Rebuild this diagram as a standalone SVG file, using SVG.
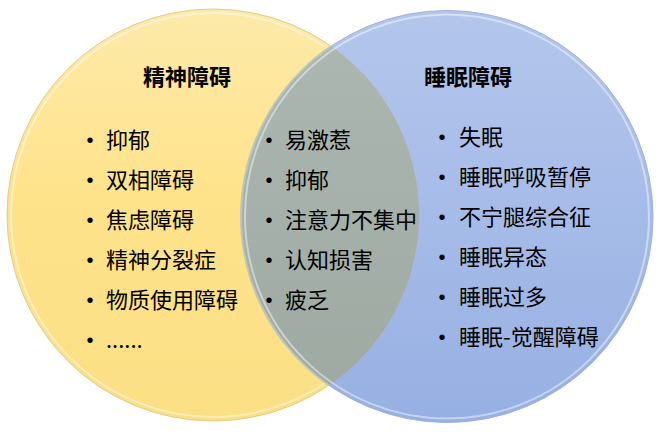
<svg xmlns="http://www.w3.org/2000/svg" width="664" height="436" viewBox="0 0 664 436">
<style>
text{font-family:"Noto Sans CJK SC","Noto Sans",sans-serif;fill:#000;}
.t{font-size:22px;font-weight:bold;}
.i{font-size:22px;}
.b{font-family:"Liberation Sans",sans-serif;font-size:20px;text-anchor:middle;}
.rim{fill:none;stroke:#ffffff;stroke-opacity:0.45;stroke-width:2;}
</style>
<defs>
<linearGradient id="gy" x1="0" y1="0" x2="0" y2="1">
<stop offset="0" stop-color="#FDEAAA"/>
<stop offset="0.45" stop-color="#FFE38B"/>
<stop offset="1" stop-color="#FBDF85"/>
</linearGradient>
<linearGradient id="gb" x1="0" y1="0" x2="0" y2="1">
<stop offset="0" stop-color="#B4C6EC"/>
<stop offset="1" stop-color="#97B0E3"/>
</linearGradient>
<linearGradient id="gg" x1="0" y1="0" x2="0" y2="1">
<stop offset="0" stop-color="#ADB8B3"/>
<stop offset="1" stop-color="#9DA8A1"/>
</linearGradient>
<clipPath id="cl"><circle cx="213" cy="215" r="206"/></clipPath>
</defs>
<g id="left-circle">
<circle cx="213" cy="215" r="206" fill="url(#gy)" stroke="#E2CD86" stroke-width="1"/>
<circle class="rim" cx="213" cy="215" r="202"/>
</g>
<g id="right-circle">
<circle cx="447" cy="216.5" r="206" fill="url(#gb)" stroke="#9FB2D8" stroke-width="1"/>
<circle class="rim" cx="447" cy="216.5" r="202"/>
</g>
<g id="overlap" clip-path="url(#cl)">
<circle cx="447" cy="216.5" r="206" fill="url(#gg)" stroke="#B9C6C2" stroke-width="2"/>
<circle class="rim" cx="447" cy="216.5" r="202"/>
</g>
<g id="connectors"></g>
<g id="mental">
<text class="t" x="143" y="85">精神障碍</text>
<text class="b" x="90" y="147">•</text><text class="i" x="106" y="148">抑郁</text>
<text class="b" x="90" y="187">•</text><text class="i" x="106" y="188">双相障碍</text>
<text class="b" x="90" y="227">•</text><text class="i" x="106" y="228">焦虑障碍</text>
<text class="b" x="90" y="267">•</text><text class="i" x="106" y="268">精神分裂症</text>
<text class="b" x="90" y="307">•</text><text class="i" x="106" y="308">物质使用障碍</text>
<text class="b" x="90" y="347">•</text><text class="i" x="106" y="348">......</text>
</g>
<g id="shared">
<text class="b" x="269" y="147">•</text><text class="i" x="285" y="148">易激惹</text>
<text class="b" x="269" y="187">•</text><text class="i" x="285" y="188">抑郁</text>
<text class="b" x="269" y="227">•</text><text class="i" x="285" y="228">注意力不集中</text>
<text class="b" x="269" y="267">•</text><text class="i" x="285" y="268">认知损害</text>
<text class="b" x="269" y="307">•</text><text class="i" x="285" y="308">疲乏</text>
</g>
<g id="sleep">
<text class="t" x="424" y="85">睡眠障碍</text>
<text class="b" x="442" y="144">•</text><text class="i" x="459" y="145">失眠</text>
<text class="b" x="442" y="184">•</text><text class="i" x="459" y="185">睡眠呼吸暂停</text>
<text class="b" x="442" y="224">•</text><text class="i" x="459" y="225">不宁腿综合征</text>
<text class="b" x="442" y="264">•</text><text class="i" x="459" y="265">睡眠异态</text>
<text class="b" x="442" y="304">•</text><text class="i" x="459" y="305">睡眠过多</text>
<text class="b" x="442" y="344">•</text><text class="i" x="459" y="345">睡眠-觉醒障碍</text>
</g>
</svg>
